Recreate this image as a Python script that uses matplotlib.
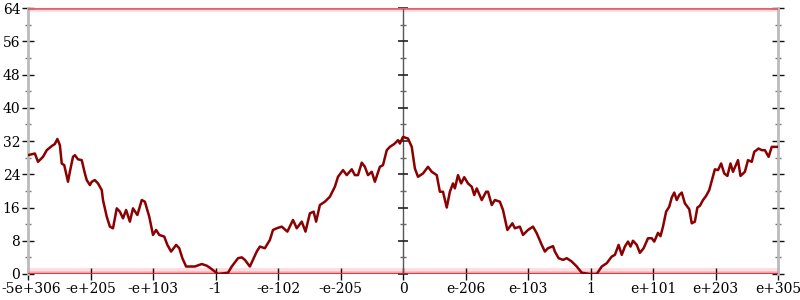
import numpy as np
import matplotlib.pyplot as plt
from matplotlib.transforms import ScaledTranslation

# x ticks are equally spaced, labelled by the float they stand for
tick_pos = [-6, -5, -4, -3, -2, -1, 0, 1, 2, 3, 4, 5, 6]
tick_labels = ['-5e+306', '-e+205', '-e+103', '-1', '-e-102', '-e-205', '0',
               'e-206', 'e-103', '1', 'e+101', 'e+203', 'e+305']
y_major = [0, 8, 16, 24, 32, 40, 48, 56, 64]
y_minor = [4, 12, 20, 28, 36, 44, 52, 60]

# the trace
xs = [-6.00, -5.89, -5.84, -5.76, -5.70, -5.62, -5.57, -5.53, -5.49, -5.46,
      -5.42, -5.36, -5.33, -5.28, -5.25, -5.20, -5.14, -5.09, -5.06, -5.01,
      -4.98, -4.93, -4.88, -4.82, -4.80, -4.74, -4.69, -4.64, -4.58, -4.53,
      -4.48, -4.43, -4.37, -4.32, -4.25, -4.18, -4.13, -4.06, -4.00, -3.95,
      -3.90, -3.82, -3.77, -3.71, -3.63, -3.58, -3.53, -3.47, -3.33, -3.22,
      -3.14, -3.09, -2.96, -2.80, -2.74, -2.64, -2.58, -2.53, -2.45, -2.34,
      -2.29, -2.21, -2.13, -2.08, -2.02, -1.94, -1.85, -1.76, -1.70, -1.62,
      -1.56, -1.49, -1.43, -1.39, -1.33, -1.25, -1.17, -1.09, -1.04, -0.96,
      -0.90, -0.82, -0.77, -0.72, -0.66, -0.61, -0.56, -0.50, -0.45, -0.37,
      -0.32, -0.26, -0.21, -0.14, -0.08, -0.05, 0.00,
      0.08, 0.14, 0.19, 0.24, 0.32, 0.40, 0.46, 0.54, 0.59, 0.64,
      0.70, 0.75, 0.80, 0.83, 0.88, 0.93, 0.98, 1.04, 1.10, 1.14,
      1.18, 1.26, 1.33, 1.36, 1.42, 1.47, 1.55, 1.60, 1.67, 1.75,
      1.79, 1.87, 1.92, 2.00, 2.08, 2.14, 2.22, 2.27, 2.32, 2.40,
      2.43, 2.49, 2.56, 2.62, 2.70, 2.78, 2.86, 2.99, 3.10, 3.18,
      3.26, 3.34, 3.39, 3.45, 3.50, 3.55, 3.60, 3.64, 3.68, 3.74,
      3.79, 3.85, 3.92, 3.98, 4.02, 4.08, 4.12, 4.16, 4.21, 4.26,
      4.30, 4.34, 4.38, 4.42, 4.46, 4.51, 4.58, 4.62, 4.67, 4.71,
      4.75, 4.80, 4.85, 4.90, 4.94, 4.99, 5.04, 5.09, 5.14, 5.19,
      5.24, 5.28, 5.36, 5.40, 5.47, 5.52, 5.58, 5.62, 5.69, 5.74,
      5.79, 5.85, 5.90, 5.98]
ys = [28.6, 29.0, 27.0, 28.2, 29.8, 30.8, 31.3, 32.5, 31.0, 26.6,
      26.2, 22.2, 24.6, 28.2, 28.6, 27.6, 27.4, 24.2, 22.6, 21.4,
      22.2, 22.6, 21.8, 20.2, 17.8, 13.8, 11.4, 11.0, 15.8, 15.0,
      13.4, 15.4, 12.6, 15.8, 14.2, 17.8, 17.4, 13.8, 9.4, 10.6,
      9.4, 9.0, 7.0, 5.4, 7.0, 6.2, 3.8, 1.8, 1.8, 2.4,
      2.0, 1.5, 0.0, 0.3, 1.8, 3.8, 4.0, 3.4, 1.8, 5.4,
      6.6, 6.2, 8.2, 10.6, 11.0, 11.4, 10.2, 13.0, 11.0, 12.6,
      10.2, 14.6, 15.0, 12.6, 16.6, 17.4, 18.6, 21.0, 23.4, 25.0,
      23.8, 25.2, 23.8, 23.8, 26.8, 25.8, 23.8, 24.6, 22.2, 25.8,
      26.2, 29.8, 30.6, 31.3, 32.2, 31.4, 33.0,
      32.6, 30.6, 25.4, 23.4, 24.2, 25.8, 24.6, 23.8, 19.8, 19.8,
      16.0, 19.8, 21.8, 20.6, 23.8, 21.8, 23.3, 21.8, 21.0, 19.0,
      20.6, 17.8, 19.8, 19.8, 16.6, 17.8, 17.4, 15.4, 10.6, 12.2,
      11.0, 11.4, 9.4, 10.6, 11.4, 9.8, 7.0, 5.4, 6.2, 6.7,
      5.4, 3.8, 3.4, 3.8, 3.0, 1.8, 0.3, 0.0, 0.0, 1.8,
      2.6, 4.2, 4.6, 7.0, 4.6, 6.6, 7.8, 6.6, 8.0, 7.0,
      5.1, 6.2, 8.6, 8.6, 7.8, 9.9, 9.1, 11.4, 15.0, 16.2,
      18.4, 19.6, 17.8, 19.0, 19.6, 17.0, 15.6, 12.2, 12.6, 16.0,
      16.4, 17.8, 18.8, 20.2, 22.4, 25.2, 25.0, 26.6, 24.2, 23.6,
      26.6, 24.6, 27.4, 23.6, 24.6, 27.4, 27.0, 29.4, 30.2, 29.8,
      29.8, 28.2, 30.6, 30.6]

plt.rcParams['font.family'] = 'DejaVu Serif'
fig = plt.figure(figsize=(8, 3), dpi=100)
ax = fig.add_axes([0.035, 0.0867, 0.9375, 0.8863])
ax.set_xlim(-6, 6)
ax.set_ylim(0, 64)

# faint red bands where the out-of-range samples pile up
ax.axhspan(0, 1.5, color='#ff3040', alpha=0.16, lw=0)
ax.axhspan(0, 0.6, color='#ff3040', alpha=0.18, lw=0)
ax.axhspan(63.0, 64, color='#ff3040', alpha=0.16, lw=0)
ax.axhline(0, color='#e0202c', lw=2.4, alpha=0.85, zorder=3)
ax.axhline(64, color='#e8303a', lw=2.2, alpha=0.6, zorder=3)

ax.plot(xs, ys, color='#8b0000', lw=1.8, zorder=4)

# centre axis at x=0 with its own ticks
ax.axvline(0, color='#555555', lw=1, zorder=2)
ax.plot(np.zeros(len(y_major)), y_major, ls='none', marker='_', ms=7,
        mew=1.2, color='#222222', zorder=2, clip_on=False)
ax.plot(np.zeros(len(y_minor)), y_minor, ls='none', marker='_', ms=4,
        mew=1, color='#666666', zorder=2)

for side in ['left', 'right']:
    ax.spines[side].set_color('#bbbbbb')
    ax.spines[side].set_linewidth(2)
ax.spines['top'].set_color('#bbbbbb')
ax.spines['bottom'].set_visible(False)

ax.set_xticks(tick_pos)
ax.set_xticklabels(tick_labels)
ax.set_yticks(y_major)
ax.set_yticks(y_minor, minor=True)
ax.tick_params(axis='both', which='major', direction='inout', length=9,
               width=1, color='#111111', labelsize=10, pad=1)
ax.tick_params(axis='y', which='minor', direction='inout', length=5,
               width=1, color='#777777')
ax.tick_params(axis='y', which='both', right=True)
ax.tick_params(axis='x', top=False)

# keep the first label inside the canvas
first = ax.get_xticklabels()[0]
first.set_transform(first.get_transform()
                    + ScaledTranslation(2 / 72, 0, fig.dpi_scale_trans))

fig.savefig('out.png', dpi=100)
